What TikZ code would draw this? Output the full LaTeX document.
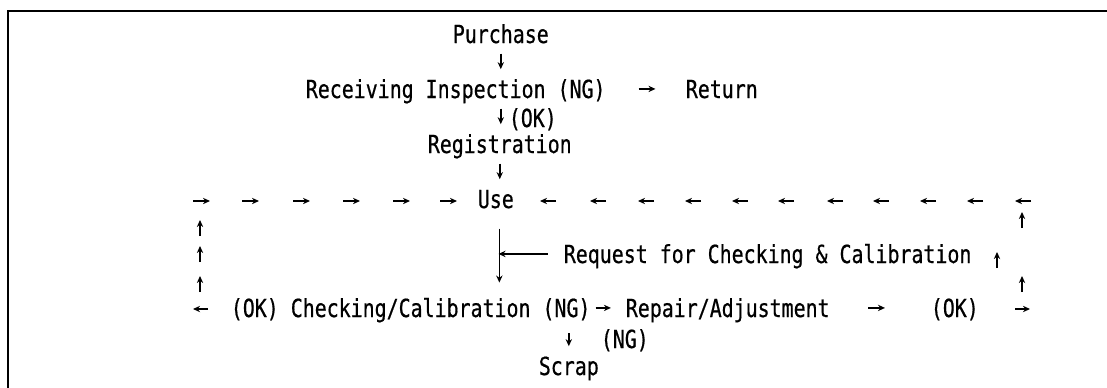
\documentclass[tikz,border=0pt]{standalone}
\usepackage{fontspec}
\setmonofont[FakeStretch=0.8,FakeBold=0.6]{DejaVu Sans Mono}
\usetikzlibrary{arrows.meta}

\def\toprow{201}
\def\botrow{309}

\begin{document}
\begin{tikzpicture}[x=0.025cm,y=-0.025cm,line width=1.2pt,
	every edge/.append style={line width=1.2pt}]
    \tikzstyle{txt}=[font=\ttfamily\fontsize{17.7}{21}\selectfont,inner sep=0pt,anchor=base west,text height=12.9pt,text depth=0pt]
    \tikzstyle{arr}=[-{Stealth[length=5pt,width=4.5pt]}]
    \tikzstyle{darr}=[arr,shorten <=7pt,shorten >=7pt]

    \useasboundingbox (0,0) rectangle (1107,388);
    % Draw the frame (left and top side only)
    \draw[line width=1.3pt] (8,388) |- (1107,11);

    % Draw the text lines
    \node[txt] (pur) at (452,43) {Purchase};
    \node[txt] (rec) at (305,98) {Receiving Inspection (NG)};
    \node[txt] (ret) at (685,98) {Return};
    \node[txt] (ok1) at (508,127) {(OK)};
    \node[txt] (reg) at (427,153) {Registration};
    \node[txt] (use) at (477,208) {Use};
    \node[txt] (req) at (563,263) {Request for Checking \& Calibration};
    \node[txt] (chk) at (230,317) {(OK) Checking/Calibration (NG)};
    \node[txt] (rep) at (625,317) {Repair/Adjustment};
    \node[txt] (ok2) at (930,317) {(OK)};
    \node[txt] (ng) at (600,348) {(NG)};
    \node[txt] (scr) at (538,375) {Scrap};

    % Connect purchase down to use
    \path (pur.south) edge[darr] (pur.south |- rec.north);
    \path (rec.south -| pur.south) edge[darr] (reg.north -| pur.south);
    \path (reg.south) edge[darr] (reg.south |- use.north);
    \path (rec.east) edge[arr,shorten <=23pt,shorten >=21pt] (ret.west);

    % Request line from use to checking
    \path ([xshift=2.5pt]use.south) edge[arr,shorten <=14pt,shorten >=11pt] ([xshift=2.5pt]use.south |- chk.north);
    \path (req.west) edge[arr,shorten <=10.7pt,shorten >=-0.6pt] ([xshift=2.5pt]req.west -| use.south);

    % Checking outcomes
    \path (scr.north |- chk.south) edge[darr,shorten <=11pt] (scr.north);
    \path (chk.east) edge[arr,shorten <=3pt,shorten >=10pt] (rep.west);
    \path (rep.east) edge[arr,shorten <=27pt,shorten >=32pt] (ok2.west);

    % The loop back to use, left side
    \foreach \x [count=\i] in {193,242,293,343,393,440} {
        \coordinate (la\i) at (\x,\toprow);
        \coordinate (lb\i) at (\x+17,\toprow);
        \draw[arr] (la\i) -- (lb\i);
    }
    \foreach \y [count=\i] in {220,246,276} {
        \coordinate (lu\i) at (200,\y+16);
        \coordinate (lt\i) at (200,\y);
        \draw[arr] (lu\i) -- (lt\i);
    }
    \coordinate (lc1) at (208,\botrow);
    \coordinate (lc2) at (193,\botrow);
    \draw[arr] (lc1) -- (lc2);

    % The loop back to use, right side
    \foreach \x [count=\i] in {540,590,638,685,732,778,827,873,920,967,1015} {
        \coordinate (ra\i) at (\x+16,\toprow);
        \coordinate (rb\i) at (\x,\toprow);
        \draw[arr] (ra\i) -- (rb\i);
    }
    \foreach \x/\y [count=\i] in {1022/212,997/252,1022/276} {
        \coordinate (ru\i) at (\x,\y+16);
        \coordinate (rt\i) at (\x,\y);
        \draw[arr] (ru\i) -- (rt\i);
    }
    \coordinate (rc1) at (1015,\botrow);
    \coordinate (rc2) at (1030,\botrow);
    \draw[arr] (rc1) -- (rc2);
\end{tikzpicture}
\end{document}
